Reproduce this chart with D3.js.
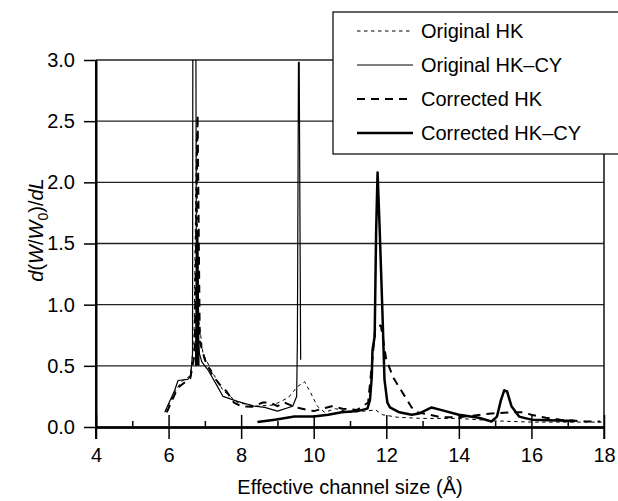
<!DOCTYPE html>
<html>
<head>
<meta charset="utf-8">
<script src="https://cdn.jsdelivr.net/npm/d3@7"></script>
<style>
  body { margin: 0; background: #fff; }
  svg { font-family: "Liberation Sans", Arial, sans-serif; }
</style>
</head>
<body>
<div id="chart"></div>
<script>
// series values: [channel size (A), d(W/W0)/dL]
let originalHK = [
  [5.9,0.12],[6.2,0.3],[6.35,0.37],[6.6,0.42],[6.7,0.7],[6.77,2.4],[6.82,0.9],[6.95,0.6],
  [7.2,0.45],[7.5,0.3],[7.9,0.2],[8.4,0.17],[8.9,0.18],[9.3,0.24],[9.55,0.33],[9.75,0.37],
  [9.95,0.26],[10.1,0.17],[10.3,0.12],[10.6,0.15],[11.0,0.12],[11.4,0.13],[11.7,0.14],
  [11.9,0.1],[12.3,0.08],[13,0.07],[14,0.07],[14.5,0.06],[15,0.05],[16,0.04],[18,0.04]
]
let originalHKCY = [
  [5.9,0.125],[6.17,0.3],[6.26,0.38],[6.53,0.39],[6.61,0.42],[6.66,0.6],[6.67,3.5],[6.75,3.5],
  [6.77,0.9],[6.85,0.6],[6.92,0.53],[7.08,0.47],[7.35,0.33],[7.5,0.25],[7.9,0.21],[8.37,0.17],
  [8.65,0.16],[9.0,0.13],[9.42,0.17],[9.53,0.25],[9.55,0.7],[9.58,2.98],[9.6,2.98],[9.64,0.55]
]
let correctedHK = [
  [5.95,0.12],[6.25,0.32],[6.6,0.4],[6.72,0.6],[6.8,2.55],[6.86,0.7],[7.0,0.55],[7.2,0.43],
  [7.4,0.35],[7.6,0.29],[7.8,0.2],[8.0,0.17],[8.3,0.165],[8.6,0.2],[8.8,0.2],[9.0,0.17],
  [9.2,0.2],[9.5,0.16],[10.0,0.13],[10.5,0.17],[10.8,0.15],[11.2,0.14],[11.5,0.2],[11.6,0.5],
  [11.7,0.82],[11.85,0.83],[12.0,0.55],[12.2,0.4],[12.45,0.28],[12.7,0.16],[12.85,0.12],
  [13.2,0.1],[13.5,0.08],[14.0,0.08],[14.6,0.1],[14.9,0.11],[15.4,0.12],[15.75,0.12],
  [16.0,0.1],[16.4,0.075],[16.8,0.06],[17.5,0.045],[17.9,0.045]
]
// null splits the line into two pieces
let correctedHKCY = [
  [6.76,0.5],[6.79,1.6],[6.82,0.5],null,
  [8.45,0.04],[8.93,0.06],[9.47,0.085],[10.0,0.085],[10.4,0.1],[10.77,0.12],[11.2,0.13],
  [11.48,0.15],[11.55,0.22],[11.6,0.41],[11.62,0.63],[11.68,0.74],[11.72,1.6],[11.76,2.08],
  [11.82,1.6],[11.9,0.88],[11.95,0.39],[12.03,0.2],[12.1,0.16],[12.36,0.12],[12.7,0.1],
  [12.9,0.11],[13.25,0.16],[13.5,0.14],[14.0,0.1],[14.55,0.075],[14.9,0.045],[15.05,0.085],
  [15.16,0.22],[15.25,0.3],[15.33,0.29],[15.45,0.17],[15.66,0.085],[16.0,0.06],[17.2,0.05]
]

let seriesNames = ['Original HK', 'Original HK\u2013CY', 'Corrected HK', 'Corrected HK\u2013CY']
let seriesData = [originalHK, originalHKCY, correctedHK, correctedHKCY]
let seriesStyle = [
  { width: 1, dash: '3.5,3.5' },
  { width: 1.2, dash: null },
  { width: 2, dash: '8,6' },
  { width: 2.5, dash: null }
]

let xMajorTicks = [4, 6, 8, 10, 12, 14, 16, 18]
let xMinorTicks = [5, 7, 9, 11, 13, 15, 17]
let yTicks = [0, 0.5, 1.0, 1.5, 2.0, 2.5, 3.0]

let width = 618, height = 501
let fontSize = 20

let svg = d3.select('#chart').append('svg')
  .attr('width', width)
  .attr('height', height)

let x = d3.scaleLinear().domain([4, 18]).range([96, 604])
let y = d3.scaleLinear().domain([0, 3]).range([427, 60])

// grid lines
svg.append('g')
  .selectAll('line')
  .data(yTicks.slice(1))
  .enter().append('line')
    .attr('x1', x(4)).attr('x2', x(18))
    .attr('y1', d => y(d)).attr('y2', d => y(d))
    .attr('stroke', '#222').attr('stroke-width', 1.3)

// right frame
svg.append('line')
  .attr('x1', x(18)).attr('x2', x(18))
  .attr('y1', y(3)).attr('y2', y(0) + 12)
  .attr('stroke', '#111').attr('stroke-width', 1.5)

// x axis: major ticks down, same ticks up, minor ticks up
svg.append('g')
  .attr('transform', 'translate(0,' + y(0) + ')')
  .call(d3.axisBottom(x).tickValues(xMajorTicks).tickSize(12).tickSizeOuter(0).tickPadding(9))
svg.append('g')
  .attr('transform', 'translate(0,' + y(0) + ')')
  .call(d3.axisBottom(x).tickValues(xMajorTicks).tickSize(-12).tickSizeOuter(0).tickFormat(''))
svg.append('g')
  .attr('transform', 'translate(0,' + y(0) + ')')
  .call(d3.axisBottom(x).tickValues(xMinorTicks).tickSize(-6).tickSizeOuter(0).tickFormat(''))

// y axis
svg.append('g')
  .attr('transform', 'translate(' + x(4) + ',0)')
  .call(d3.axisLeft(y).tickValues(yTicks).tickSize(12).tickSizeOuter(0).tickPadding(9)
    .tickFormat(d3.format('.1f')))
svg.append('line')
  .attr('x1', x(4)).attr('x2', x(4))
  .attr('y1', y(3)).attr('y2', y(0) + 12)
  .attr('stroke', '#000').attr('stroke-width', 2)

svg.selectAll('.domain').attr('stroke', '#000').attr('stroke-width', 2)
svg.selectAll('.tick line').attr('stroke', '#000').attr('stroke-width', 1.5)
svg.selectAll('.tick text').attr('font-size', fontSize).attr('fill', '#000')
  .attr('font-family', '"Liberation Sans", Arial, sans-serif')

// lines
svg.append('clipPath').attr('id', 'plotClip')
  .append('rect')
    .attr('x', x(4)).attr('y', y(3))
    .attr('width', x(18) - x(4)).attr('height', y(0) - y(3))

let line = d3.line()
  .defined(d => d !== null)
  .x(d => x(d[0]))
  .y(d => y(d[1]))

svg.append('g')
  .attr('clip-path', 'url(#plotClip)')
  .selectAll('path')
  .data(seriesData)
  .enter().append('path')
    .attr('d', line)
    .attr('fill', 'none')
    .attr('stroke', '#000')
    .attr('stroke-width', (d, i) => seriesStyle[i].width)
    .attr('stroke-dasharray', (d, i) => seriesStyle[i].dash)
    .attr('stroke-linejoin', 'round')

// legend
let legend = svg.append('g')
legend.append('rect')
  .attr('x', 333).attr('y', 12)
  .attr('width', 300).attr('height', 142)
  .attr('fill', '#fff').attr('stroke', '#111').attr('stroke-width', 1.3)

let rows = legend.selectAll('g.row')
  .data(seriesNames)
  .enter().append('g')
    .attr('class', 'row')
    .attr('transform', (d, i) => 'translate(0,' + (31 + i * 34) + ')')
rows.append('line')
  .attr('x1', 357).attr('x2', 413)
  .attr('stroke', '#000')
  .attr('stroke-width', (d, i) => seriesStyle[i].width)
  .attr('stroke-dasharray', (d, i) => seriesStyle[i].dash)
rows.append('text')
  .attr('x', 421).attr('dy', '0.36em')
  .attr('font-size', fontSize)
  .text(d => d)

// axis titles
svg.append('text')
  .attr('x', (x(4) + x(18)) / 2).attr('y', 494)
  .attr('text-anchor', 'middle')
  .attr('font-size', fontSize)
  .text('Effective channel size (\u00C5)')

let yTitle = svg.append('text')
  .attr('transform', 'translate(43,230) rotate(-90)')
  .attr('text-anchor', 'middle')
  .attr('font-size', fontSize)
yTitle.append('tspan').attr('font-style', 'italic').text('d')
yTitle.append('tspan').text('(')
yTitle.append('tspan').attr('font-style', 'italic').text('W')
yTitle.append('tspan').text('/')
yTitle.append('tspan').attr('font-style', 'italic').text('W')
yTitle.append('tspan').attr('font-size', 14).attr('dy', 5).text('0')
yTitle.append('tspan').attr('dy', -5).text(')/')
yTitle.append('tspan').attr('font-style', 'italic').text('dL')
</script>
</body>
</html>
